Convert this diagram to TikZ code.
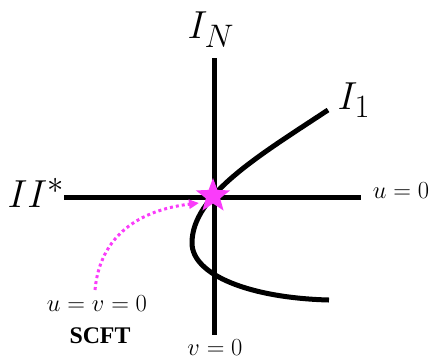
\documentclass[tikz,border=0pt]{standalone}
\usepackage{fontspec}
\newfontfamily\timesfont{Liberation Serif}
\usetikzlibrary{shapes.geometric,arrows.meta}
\definecolor{starmag}{RGB}{250,60,250}
\begin{document}
\begin{tikzpicture}[x=1pt,y=-1pt,
  axis/.style={line width=5pt},
  biglab/.style={inner sep=0pt,font=\Huge,scale=1.57},
  smalllab/.style={inner sep=0pt,font=\LARGE,scale=1.42},
  dotarrow/.style={starmag,line width=3pt,dash pattern=on 3pt off 3pt,-{Triangle[length=10pt,width=9pt]}}]
\useasboundingbox (0,0) rectangle (433,360);
\coordinate (vtop) at (214,58);
\coordinate (vbot) at (214,335);
\coordinate (hl) at (64,197);
\coordinate (hr) at (361,197);
\draw[axis] (vtop) -- (vbot);
\draw[axis] (hl) -- (hr);
\coordinate (ctop) at (328,110);
\coordinate (cvert) at (192,243);
\coordinate (cbot) at (329,300);
\draw[axis] (ctop) .. controls (260,155) and (192,195) .. (cvert)
  .. controls (192,275) and (250,298) .. (cbot);
\node[star,star points=5,star point ratio=2.4,fill=starmag,minimum size=36pt,inner sep=0pt] (sc) at (213,196) {};
\node[biglab] (IN) at (211,30) {$I_N$};
\node[biglab] (I1) at (354,100) {$I_1$};
\node[biglab] (II) at (36,193) {$II^*$};
\node[smalllab] (u0) at (401,191) {$u=0$};
\node[smalllab] (v0) at (215,348) {$v=0$};
\node[smalllab] (uv) at (97,304) {$u=v=0$};
\node[inner sep=0pt,font=\timesfont\bfseries\LARGE,scale=1.38] (scft) at (100,336) {SCFT};
\coordinate (as) at (95,290);
\coordinate (ae) at (199,203);
\draw[dotarrow] (as) .. controls (100,235) and (140,210) .. (ae);
\end{tikzpicture}
\end{document}
